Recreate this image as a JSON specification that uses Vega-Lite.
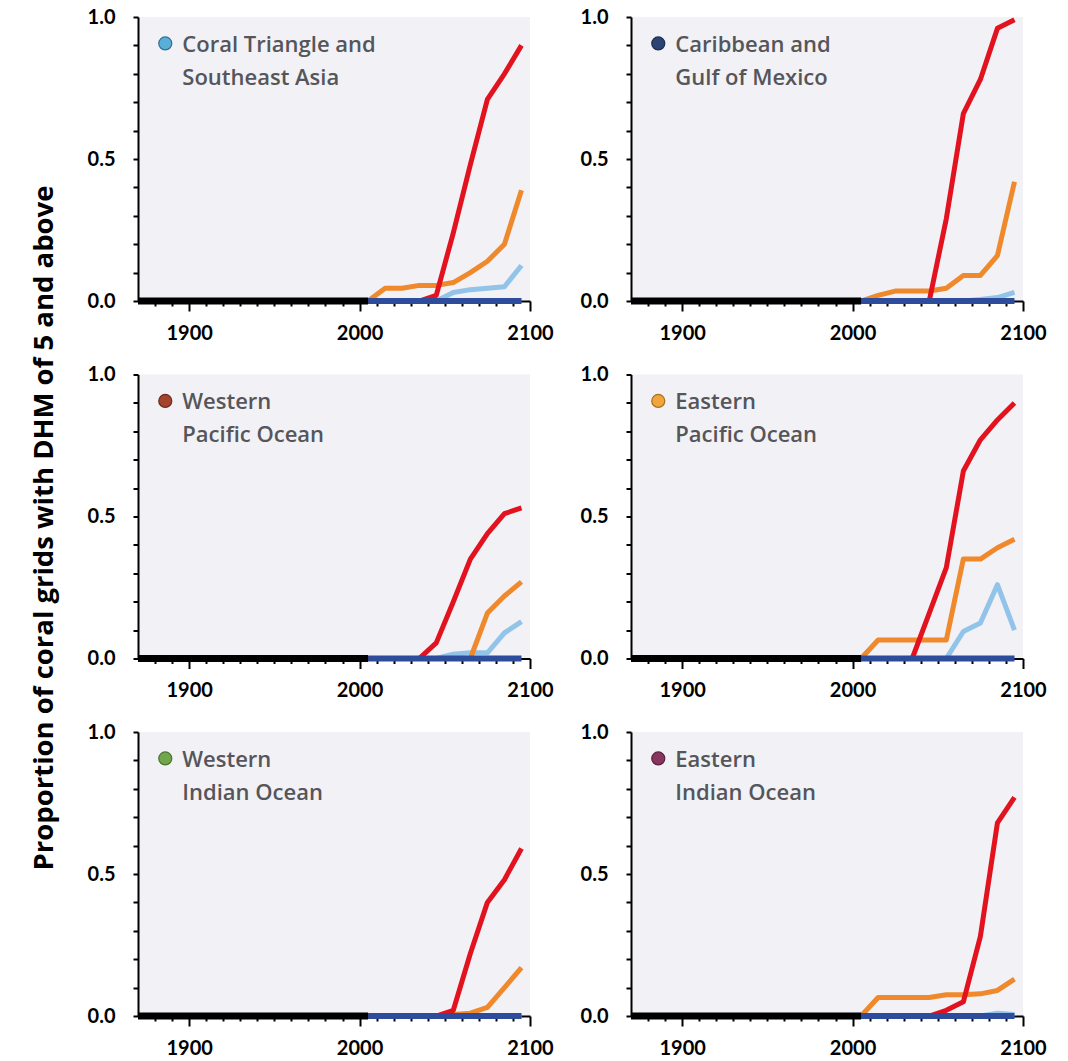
{
  "$schema": "https://vega.github.io/schema/vega-lite/v6.json",
  "background": "white",
  "padding": {"left": 30, "top": 7, "right": 5, "bottom": 5},
  "datasets": {
    "series": [
      {"region":"CT","scen":"Historical","year":1870,"value":0},{"region":"CT","scen":"Historical","year":2005,"value":0},
      {"region":"CT","scen":"RCP2.6","year":2005,"value":0},{"region":"CT","scen":"RCP2.6","year":2015,"value":0},{"region":"CT","scen":"RCP2.6","year":2025,"value":0},{"region":"CT","scen":"RCP2.6","year":2035,"value":0},{"region":"CT","scen":"RCP2.6","year":2045,"value":0},{"region":"CT","scen":"RCP2.6","year":2055,"value":0},{"region":"CT","scen":"RCP2.6","year":2065,"value":0},{"region":"CT","scen":"RCP2.6","year":2075,"value":0},{"region":"CT","scen":"RCP2.6","year":2085,"value":0},{"region":"CT","scen":"RCP2.6","year":2095,"value":0},
      {"region":"CT","scen":"RCP4.5","year":2005,"value":0},{"region":"CT","scen":"RCP4.5","year":2015,"value":0},{"region":"CT","scen":"RCP4.5","year":2025,"value":0},{"region":"CT","scen":"RCP4.5","year":2035,"value":0},{"region":"CT","scen":"RCP4.5","year":2045,"value":0},{"region":"CT","scen":"RCP4.5","year":2055,"value":0.03},{"region":"CT","scen":"RCP4.5","year":2065,"value":0.04},{"region":"CT","scen":"RCP4.5","year":2075,"value":0.045},{"region":"CT","scen":"RCP4.5","year":2085,"value":0.05},{"region":"CT","scen":"RCP4.5","year":2095,"value":0.125},
      {"region":"CT","scen":"RCP6.0","year":2005,"value":0},{"region":"CT","scen":"RCP6.0","year":2015,"value":0.045},{"region":"CT","scen":"RCP6.0","year":2025,"value":0.045},{"region":"CT","scen":"RCP6.0","year":2035,"value":0.055},{"region":"CT","scen":"RCP6.0","year":2045,"value":0.055},{"region":"CT","scen":"RCP6.0","year":2055,"value":0.065},{"region":"CT","scen":"RCP6.0","year":2065,"value":0.1},{"region":"CT","scen":"RCP6.0","year":2075,"value":0.14},{"region":"CT","scen":"RCP6.0","year":2085,"value":0.2},{"region":"CT","scen":"RCP6.0","year":2095,"value":0.39},
      {"region":"CT","scen":"RCP8.5","year":2005,"value":0},{"region":"CT","scen":"RCP8.5","year":2015,"value":0},{"region":"CT","scen":"RCP8.5","year":2025,"value":0},{"region":"CT","scen":"RCP8.5","year":2035,"value":0},{"region":"CT","scen":"RCP8.5","year":2045,"value":0.02},{"region":"CT","scen":"RCP8.5","year":2055,"value":0.24},{"region":"CT","scen":"RCP8.5","year":2065,"value":0.48},{"region":"CT","scen":"RCP8.5","year":2075,"value":0.71},{"region":"CT","scen":"RCP8.5","year":2085,"value":0.8},{"region":"CT","scen":"RCP8.5","year":2095,"value":0.9},

      {"region":"CAR","scen":"Historical","year":1870,"value":0},{"region":"CAR","scen":"Historical","year":2005,"value":0},
      {"region":"CAR","scen":"RCP2.6","year":2005,"value":0},{"region":"CAR","scen":"RCP2.6","year":2015,"value":0},{"region":"CAR","scen":"RCP2.6","year":2025,"value":0},{"region":"CAR","scen":"RCP2.6","year":2035,"value":0},{"region":"CAR","scen":"RCP2.6","year":2045,"value":0},{"region":"CAR","scen":"RCP2.6","year":2055,"value":0},{"region":"CAR","scen":"RCP2.6","year":2065,"value":0},{"region":"CAR","scen":"RCP2.6","year":2075,"value":0},{"region":"CAR","scen":"RCP2.6","year":2085,"value":0},{"region":"CAR","scen":"RCP2.6","year":2095,"value":0},
      {"region":"CAR","scen":"RCP4.5","year":2005,"value":0},{"region":"CAR","scen":"RCP4.5","year":2015,"value":0},{"region":"CAR","scen":"RCP4.5","year":2025,"value":0},{"region":"CAR","scen":"RCP4.5","year":2035,"value":0},{"region":"CAR","scen":"RCP4.5","year":2045,"value":0},{"region":"CAR","scen":"RCP4.5","year":2055,"value":0},{"region":"CAR","scen":"RCP4.5","year":2065,"value":0},{"region":"CAR","scen":"RCP4.5","year":2075,"value":0.005},{"region":"CAR","scen":"RCP4.5","year":2085,"value":0.012},{"region":"CAR","scen":"RCP4.5","year":2095,"value":0.03},
      {"region":"CAR","scen":"RCP6.0","year":2005,"value":0},{"region":"CAR","scen":"RCP6.0","year":2015,"value":0.02},{"region":"CAR","scen":"RCP6.0","year":2025,"value":0.035},{"region":"CAR","scen":"RCP6.0","year":2035,"value":0.035},{"region":"CAR","scen":"RCP6.0","year":2045,"value":0.035},{"region":"CAR","scen":"RCP6.0","year":2055,"value":0.045},{"region":"CAR","scen":"RCP6.0","year":2065,"value":0.09},{"region":"CAR","scen":"RCP6.0","year":2075,"value":0.09},{"region":"CAR","scen":"RCP6.0","year":2085,"value":0.16},{"region":"CAR","scen":"RCP6.0","year":2095,"value":0.42},
      {"region":"CAR","scen":"RCP8.5","year":2005,"value":0},{"region":"CAR","scen":"RCP8.5","year":2015,"value":0},{"region":"CAR","scen":"RCP8.5","year":2025,"value":0},{"region":"CAR","scen":"RCP8.5","year":2035,"value":0},{"region":"CAR","scen":"RCP8.5","year":2045,"value":0},{"region":"CAR","scen":"RCP8.5","year":2055,"value":0.29},{"region":"CAR","scen":"RCP8.5","year":2065,"value":0.66},{"region":"CAR","scen":"RCP8.5","year":2075,"value":0.78},{"region":"CAR","scen":"RCP8.5","year":2085,"value":0.96},{"region":"CAR","scen":"RCP8.5","year":2095,"value":0.99},

      {"region":"WP","scen":"Historical","year":1870,"value":0},{"region":"WP","scen":"Historical","year":2005,"value":0},
      {"region":"WP","scen":"RCP2.6","year":2005,"value":0},{"region":"WP","scen":"RCP2.6","year":2015,"value":0},{"region":"WP","scen":"RCP2.6","year":2025,"value":0},{"region":"WP","scen":"RCP2.6","year":2035,"value":0},{"region":"WP","scen":"RCP2.6","year":2045,"value":0},{"region":"WP","scen":"RCP2.6","year":2055,"value":0},{"region":"WP","scen":"RCP2.6","year":2065,"value":0},{"region":"WP","scen":"RCP2.6","year":2075,"value":0},{"region":"WP","scen":"RCP2.6","year":2085,"value":0},{"region":"WP","scen":"RCP2.6","year":2095,"value":0},
      {"region":"WP","scen":"RCP4.5","year":2005,"value":0},{"region":"WP","scen":"RCP4.5","year":2015,"value":0},{"region":"WP","scen":"RCP4.5","year":2025,"value":0},{"region":"WP","scen":"RCP4.5","year":2035,"value":0},{"region":"WP","scen":"RCP4.5","year":2045,"value":0},{"region":"WP","scen":"RCP4.5","year":2055,"value":0.015},{"region":"WP","scen":"RCP4.5","year":2065,"value":0.02},{"region":"WP","scen":"RCP4.5","year":2075,"value":0.02},{"region":"WP","scen":"RCP4.5","year":2085,"value":0.09},{"region":"WP","scen":"RCP4.5","year":2095,"value":0.13},
      {"region":"WP","scen":"RCP6.0","year":2005,"value":0},{"region":"WP","scen":"RCP6.0","year":2015,"value":0},{"region":"WP","scen":"RCP6.0","year":2025,"value":0},{"region":"WP","scen":"RCP6.0","year":2035,"value":0},{"region":"WP","scen":"RCP6.0","year":2045,"value":0},{"region":"WP","scen":"RCP6.0","year":2055,"value":0},{"region":"WP","scen":"RCP6.0","year":2065,"value":0},{"region":"WP","scen":"RCP6.0","year":2075,"value":0.16},{"region":"WP","scen":"RCP6.0","year":2085,"value":0.22},{"region":"WP","scen":"RCP6.0","year":2095,"value":0.27},
      {"region":"WP","scen":"RCP8.5","year":2005,"value":0},{"region":"WP","scen":"RCP8.5","year":2015,"value":0},{"region":"WP","scen":"RCP8.5","year":2025,"value":0},{"region":"WP","scen":"RCP8.5","year":2035,"value":0},{"region":"WP","scen":"RCP8.5","year":2045,"value":0.055},{"region":"WP","scen":"RCP8.5","year":2055,"value":0.2},{"region":"WP","scen":"RCP8.5","year":2065,"value":0.35},{"region":"WP","scen":"RCP8.5","year":2075,"value":0.44},{"region":"WP","scen":"RCP8.5","year":2085,"value":0.51},{"region":"WP","scen":"RCP8.5","year":2095,"value":0.53},

      {"region":"EP","scen":"Historical","year":1870,"value":0},{"region":"EP","scen":"Historical","year":2005,"value":0},
      {"region":"EP","scen":"RCP2.6","year":2005,"value":0},{"region":"EP","scen":"RCP2.6","year":2015,"value":0},{"region":"EP","scen":"RCP2.6","year":2025,"value":0},{"region":"EP","scen":"RCP2.6","year":2035,"value":0},{"region":"EP","scen":"RCP2.6","year":2045,"value":0},{"region":"EP","scen":"RCP2.6","year":2055,"value":0},{"region":"EP","scen":"RCP2.6","year":2065,"value":0},{"region":"EP","scen":"RCP2.6","year":2075,"value":0},{"region":"EP","scen":"RCP2.6","year":2085,"value":0},{"region":"EP","scen":"RCP2.6","year":2095,"value":0},
      {"region":"EP","scen":"RCP4.5","year":2005,"value":0},{"region":"EP","scen":"RCP4.5","year":2015,"value":0},{"region":"EP","scen":"RCP4.5","year":2025,"value":0},{"region":"EP","scen":"RCP4.5","year":2035,"value":0},{"region":"EP","scen":"RCP4.5","year":2045,"value":0},{"region":"EP","scen":"RCP4.5","year":2055,"value":0},{"region":"EP","scen":"RCP4.5","year":2065,"value":0.095},{"region":"EP","scen":"RCP4.5","year":2075,"value":0.125},{"region":"EP","scen":"RCP4.5","year":2085,"value":0.26},{"region":"EP","scen":"RCP4.5","year":2095,"value":0.1},
      {"region":"EP","scen":"RCP6.0","year":2005,"value":0},{"region":"EP","scen":"RCP6.0","year":2015,"value":0.065},{"region":"EP","scen":"RCP6.0","year":2025,"value":0.065},{"region":"EP","scen":"RCP6.0","year":2035,"value":0.065},{"region":"EP","scen":"RCP6.0","year":2045,"value":0.065},{"region":"EP","scen":"RCP6.0","year":2055,"value":0.065},{"region":"EP","scen":"RCP6.0","year":2065,"value":0.35},{"region":"EP","scen":"RCP6.0","year":2075,"value":0.35},{"region":"EP","scen":"RCP6.0","year":2085,"value":0.39},{"region":"EP","scen":"RCP6.0","year":2095,"value":0.42},
      {"region":"EP","scen":"RCP8.5","year":2005,"value":0},{"region":"EP","scen":"RCP8.5","year":2015,"value":0},{"region":"EP","scen":"RCP8.5","year":2025,"value":0},{"region":"EP","scen":"RCP8.5","year":2035,"value":0},{"region":"EP","scen":"RCP8.5","year":2045,"value":0.16},{"region":"EP","scen":"RCP8.5","year":2055,"value":0.32},{"region":"EP","scen":"RCP8.5","year":2065,"value":0.66},{"region":"EP","scen":"RCP8.5","year":2075,"value":0.77},{"region":"EP","scen":"RCP8.5","year":2085,"value":0.84},{"region":"EP","scen":"RCP8.5","year":2095,"value":0.9},

      {"region":"WI","scen":"Historical","year":1870,"value":0},{"region":"WI","scen":"Historical","year":2005,"value":0},
      {"region":"WI","scen":"RCP2.6","year":2005,"value":0},{"region":"WI","scen":"RCP2.6","year":2015,"value":0},{"region":"WI","scen":"RCP2.6","year":2025,"value":0},{"region":"WI","scen":"RCP2.6","year":2035,"value":0},{"region":"WI","scen":"RCP2.6","year":2045,"value":0},{"region":"WI","scen":"RCP2.6","year":2055,"value":0},{"region":"WI","scen":"RCP2.6","year":2065,"value":0},{"region":"WI","scen":"RCP2.6","year":2075,"value":0},{"region":"WI","scen":"RCP2.6","year":2085,"value":0},{"region":"WI","scen":"RCP2.6","year":2095,"value":0},
      {"region":"WI","scen":"RCP4.5","year":2005,"value":0},{"region":"WI","scen":"RCP4.5","year":2015,"value":0},{"region":"WI","scen":"RCP4.5","year":2025,"value":0},{"region":"WI","scen":"RCP4.5","year":2035,"value":0},{"region":"WI","scen":"RCP4.5","year":2045,"value":0},{"region":"WI","scen":"RCP4.5","year":2055,"value":0},{"region":"WI","scen":"RCP4.5","year":2065,"value":0},{"region":"WI","scen":"RCP4.5","year":2075,"value":0},{"region":"WI","scen":"RCP4.5","year":2085,"value":0},{"region":"WI","scen":"RCP4.5","year":2095,"value":0},
      {"region":"WI","scen":"RCP6.0","year":2005,"value":0},{"region":"WI","scen":"RCP6.0","year":2015,"value":0},{"region":"WI","scen":"RCP6.0","year":2025,"value":0},{"region":"WI","scen":"RCP6.0","year":2035,"value":0},{"region":"WI","scen":"RCP6.0","year":2045,"value":0},{"region":"WI","scen":"RCP6.0","year":2055,"value":0.005},{"region":"WI","scen":"RCP6.0","year":2065,"value":0.01},{"region":"WI","scen":"RCP6.0","year":2075,"value":0.03},{"region":"WI","scen":"RCP6.0","year":2085,"value":0.1},{"region":"WI","scen":"RCP6.0","year":2095,"value":0.17},
      {"region":"WI","scen":"RCP8.5","year":2005,"value":0},{"region":"WI","scen":"RCP8.5","year":2015,"value":0},{"region":"WI","scen":"RCP8.5","year":2025,"value":0},{"region":"WI","scen":"RCP8.5","year":2035,"value":0},{"region":"WI","scen":"RCP8.5","year":2045,"value":0},{"region":"WI","scen":"RCP8.5","year":2055,"value":0.02},{"region":"WI","scen":"RCP8.5","year":2065,"value":0.22},{"region":"WI","scen":"RCP8.5","year":2075,"value":0.4},{"region":"WI","scen":"RCP8.5","year":2085,"value":0.48},{"region":"WI","scen":"RCP8.5","year":2095,"value":0.59},

      {"region":"EI","scen":"Historical","year":1870,"value":0},{"region":"EI","scen":"Historical","year":2005,"value":0},
      {"region":"EI","scen":"RCP2.6","year":2005,"value":0},{"region":"EI","scen":"RCP2.6","year":2015,"value":0},{"region":"EI","scen":"RCP2.6","year":2025,"value":0},{"region":"EI","scen":"RCP2.6","year":2035,"value":0},{"region":"EI","scen":"RCP2.6","year":2045,"value":0},{"region":"EI","scen":"RCP2.6","year":2055,"value":0},{"region":"EI","scen":"RCP2.6","year":2065,"value":0},{"region":"EI","scen":"RCP2.6","year":2075,"value":0},{"region":"EI","scen":"RCP2.6","year":2085,"value":0},{"region":"EI","scen":"RCP2.6","year":2095,"value":0},
      {"region":"EI","scen":"RCP4.5","year":2005,"value":0},{"region":"EI","scen":"RCP4.5","year":2015,"value":0},{"region":"EI","scen":"RCP4.5","year":2025,"value":0},{"region":"EI","scen":"RCP4.5","year":2035,"value":0},{"region":"EI","scen":"RCP4.5","year":2045,"value":0},{"region":"EI","scen":"RCP4.5","year":2055,"value":0},{"region":"EI","scen":"RCP4.5","year":2065,"value":0},{"region":"EI","scen":"RCP4.5","year":2075,"value":0},{"region":"EI","scen":"RCP4.5","year":2085,"value":0.01},{"region":"EI","scen":"RCP4.5","year":2095,"value":0.005},
      {"region":"EI","scen":"RCP6.0","year":2005,"value":0},{"region":"EI","scen":"RCP6.0","year":2015,"value":0.065},{"region":"EI","scen":"RCP6.0","year":2025,"value":0.065},{"region":"EI","scen":"RCP6.0","year":2035,"value":0.065},{"region":"EI","scen":"RCP6.0","year":2045,"value":0.065},{"region":"EI","scen":"RCP6.0","year":2055,"value":0.075},{"region":"EI","scen":"RCP6.0","year":2065,"value":0.075},{"region":"EI","scen":"RCP6.0","year":2075,"value":0.078},{"region":"EI","scen":"RCP6.0","year":2085,"value":0.09},{"region":"EI","scen":"RCP6.0","year":2095,"value":0.13},
      {"region":"EI","scen":"RCP8.5","year":2005,"value":0},{"region":"EI","scen":"RCP8.5","year":2015,"value":0},{"region":"EI","scen":"RCP8.5","year":2025,"value":0},{"region":"EI","scen":"RCP8.5","year":2035,"value":0},{"region":"EI","scen":"RCP8.5","year":2045,"value":0},{"region":"EI","scen":"RCP8.5","year":2055,"value":0.02},{"region":"EI","scen":"RCP8.5","year":2065,"value":0.05},{"region":"EI","scen":"RCP8.5","year":2075,"value":0.28},{"region":"EI","scen":"RCP8.5","year":2085,"value":0.68},{"region":"EI","scen":"RCP8.5","year":2095,"value":0.77}
    ],
    "labels": [
      {"region":"CT","label":["Coral Triangle and","Southeast Asia"]},
      {"region":"CAR","label":["Caribbean and","Gulf of Mexico"]},
      {"region":"WP","label":["Western","Pacific Ocean"]},
      {"region":"EP","label":["Eastern","Pacific Ocean"]},
      {"region":"WI","label":["Western","Indian Ocean"]},
      {"region":"EI","label":["Eastern","Indian Ocean"]}
    ]
  },
  "data": {"name": "series"},
  "columns": 2,
  "spacing": {"row": 73.5, "column": 101},
  "bounds": "flush",
  "concat": [
    {
      "width": 392, "height": 284,
      "resolve": {"axis": {"x": "independent", "y": "independent"}},
      "layer": [
        {
          "encoding": {
            "x": {"field":"year","type":"quantitative","scale":{"domain":[1870,2100],"nice":false,"zero":false},
                  "axis":{"title":null,"values":[1880,1890,1900,1910,1920,1930,1940,1950,1960,1970,1980,1990,2000,2010,2020,2030,2040,2050,2060,2070,2080,2090,2100],"format":"d","labelExpr":"datum.value % 100 === 0 ? datum.label : ''","tickSize":{"condition":{"test":"datum.value % 100 === 0","value":10},"value":5},"labelPadding":12,"labelOverlap":false,"labelFlush":false}},
            "y": {"field":"value","type":"quantitative","scale":{"domain":[0,1],"nice":false},
                  "axis":{"title":null,"values":[0,0.1,0.2,0.3,0.4,0.5,0.6,0.7,0.8,0.9,1],"labelExpr":"(datum.value === 0 || datum.value === 0.5 || datum.value === 1) ? format(datum.value, '.1f') : ''","tickSize":5,"labelPadding":18,"labelOverlap":false,"labelFlush":false}}
          },
          "layer": [
            {"transform":[{"filter":"datum.region === 'CT' && datum.scen === 'RCP4.5'"}],"mark":{"type":"line","color":"#92c3e8","strokeWidth":5,"strokeJoin":"round"}},
            {"transform":[{"filter":"datum.region === 'CT' && datum.scen === 'RCP6.0'"}],"mark":{"type":"line","color":"#f0892b","strokeWidth":5,"strokeJoin":"round"}},
            {"transform":[{"filter":"datum.region === 'CT' && datum.scen === 'RCP8.5'"}],"mark":{"type":"line","color":"#e2121f","strokeWidth":5,"strokeJoin":"round"}},
            {"transform":[{"filter":"datum.region === 'CT' && datum.scen === 'RCP2.6'"}],"mark":{"type":"line","color":"#2d4d9c","strokeWidth":6}},
            {"transform":[{"filter":"datum.region === 'CT' && datum.scen === 'Historical'"}],"mark":{"type":"line","color":"#000000","strokeWidth":7}}
          ]
        },
        {"data":{"name":"labels"},"transform":[{"filter":"datum.region === 'CT'"}],"mark":{"type":"point","filled":true,"size":170,"color":"#5aafd9","stroke":"#2f6f94","strokeWidth":1.2,"opacity":1},"encoding":{"x":{"datum":1886,"type":"quantitative","axis":null},"y":{"datum":0.907,"type":"quantitative","axis":null}}},
        {"data":{"name":"labels"},"transform":[{"filter":"datum.region === 'CT'"}],"mark":{"type":"text","align":"left","baseline":"alphabetic","font":"Open Sans","fontWeight":600,"fontSize":22,"lineHeight":33,"color":"#55555a"},"encoding":{"x":{"datum":1896,"type":"quantitative","axis":null},"y":{"datum":0.878,"type":"quantitative","axis":null},"text":{"field":"label"}}}
      ]
    },
    {
      "width": 392, "height": 284,
      "resolve": {"axis": {"x": "independent", "y": "independent"}},
      "layer": [
        {
          "encoding": {
            "x": {"field":"year","type":"quantitative","scale":{"domain":[1870,2100],"nice":false,"zero":false},
                  "axis":{"title":null,"values":[1880,1890,1900,1910,1920,1930,1940,1950,1960,1970,1980,1990,2000,2010,2020,2030,2040,2050,2060,2070,2080,2090,2100],"format":"d","labelExpr":"datum.value % 100 === 0 ? datum.label : ''","tickSize":{"condition":{"test":"datum.value % 100 === 0","value":10},"value":5},"labelPadding":12,"labelOverlap":false,"labelFlush":false}},
            "y": {"field":"value","type":"quantitative","scale":{"domain":[0,1],"nice":false},
                  "axis":{"title":null,"values":[0,0.1,0.2,0.3,0.4,0.5,0.6,0.7,0.8,0.9,1],"labelExpr":"(datum.value === 0 || datum.value === 0.5 || datum.value === 1) ? format(datum.value, '.1f') : ''","tickSize":5,"labelPadding":18,"labelOverlap":false,"labelFlush":false}}
          },
          "layer": [
            {"transform":[{"filter":"datum.region === 'CAR' && datum.scen === 'RCP4.5'"}],"mark":{"type":"line","color":"#92c3e8","strokeWidth":5,"strokeJoin":"round"}},
            {"transform":[{"filter":"datum.region === 'CAR' && datum.scen === 'RCP6.0'"}],"mark":{"type":"line","color":"#f0892b","strokeWidth":5,"strokeJoin":"round"}},
            {"transform":[{"filter":"datum.region === 'CAR' && datum.scen === 'RCP8.5'"}],"mark":{"type":"line","color":"#e2121f","strokeWidth":5,"strokeJoin":"round"}},
            {"transform":[{"filter":"datum.region === 'CAR' && datum.scen === 'RCP2.6'"}],"mark":{"type":"line","color":"#2d4d9c","strokeWidth":6}},
            {"transform":[{"filter":"datum.region === 'CAR' && datum.scen === 'Historical'"}],"mark":{"type":"line","color":"#000000","strokeWidth":7}}
          ]
        },
        {"data":{"name":"labels"},"transform":[{"filter":"datum.region === 'CAR'"}],"mark":{"type":"point","filled":true,"size":170,"color":"#2c4471","stroke":"#1c2d4d","strokeWidth":1.2,"opacity":1},"encoding":{"x":{"datum":1886,"type":"quantitative","axis":null},"y":{"datum":0.907,"type":"quantitative","axis":null}}},
        {"data":{"name":"labels"},"transform":[{"filter":"datum.region === 'CAR'"}],"mark":{"type":"text","align":"left","baseline":"alphabetic","font":"Open Sans","fontWeight":600,"fontSize":22,"lineHeight":33,"color":"#55555a"},"encoding":{"x":{"datum":1896,"type":"quantitative","axis":null},"y":{"datum":0.878,"type":"quantitative","axis":null},"text":{"field":"label"}}}
      ]
    },
    {
      "width": 392, "height": 284,
      "resolve": {"axis": {"x": "independent", "y": "independent"}},
      "layer": [
        {
          "encoding": {
            "x": {"field":"year","type":"quantitative","scale":{"domain":[1870,2100],"nice":false,"zero":false},
                  "axis":{"title":null,"values":[1880,1890,1900,1910,1920,1930,1940,1950,1960,1970,1980,1990,2000,2010,2020,2030,2040,2050,2060,2070,2080,2090,2100],"format":"d","labelExpr":"datum.value % 100 === 0 ? datum.label : ''","tickSize":{"condition":{"test":"datum.value % 100 === 0","value":10},"value":5},"labelPadding":12,"labelOverlap":false,"labelFlush":false}},
            "y": {"field":"value","type":"quantitative","scale":{"domain":[0,1],"nice":false},
                  "axis":{"title":"Proportion of coral grids with DHM of 5 and above","titleFont":"Open Sans","titleFontWeight":"bold","titleFontSize":27.5,"titleColor":"#000000","titlePadding":29,"titleY":153,"values":[0,0.1,0.2,0.3,0.4,0.5,0.6,0.7,0.8,0.9,1],"labelExpr":"(datum.value === 0 || datum.value === 0.5 || datum.value === 1) ? format(datum.value, '.1f') : ''","tickSize":5,"labelPadding":18,"labelOverlap":false,"labelFlush":false}}
          },
          "layer": [
            {"transform":[{"filter":"datum.region === 'WP' && datum.scen === 'RCP4.5'"}],"mark":{"type":"line","color":"#92c3e8","strokeWidth":5,"strokeJoin":"round"}},
            {"transform":[{"filter":"datum.region === 'WP' && datum.scen === 'RCP6.0'"}],"mark":{"type":"line","color":"#f0892b","strokeWidth":5,"strokeJoin":"round"}},
            {"transform":[{"filter":"datum.region === 'WP' && datum.scen === 'RCP8.5'"}],"mark":{"type":"line","color":"#e2121f","strokeWidth":5,"strokeJoin":"round"}},
            {"transform":[{"filter":"datum.region === 'WP' && datum.scen === 'RCP2.6'"}],"mark":{"type":"line","color":"#2d4d9c","strokeWidth":6}},
            {"transform":[{"filter":"datum.region === 'WP' && datum.scen === 'Historical'"}],"mark":{"type":"line","color":"#000000","strokeWidth":7}}
          ]
        },
        {"data":{"name":"labels"},"transform":[{"filter":"datum.region === 'WP'"}],"mark":{"type":"point","filled":true,"size":170,"color":"#a3452e","stroke":"#6e2a1a","strokeWidth":1.2,"opacity":1},"encoding":{"x":{"datum":1886,"type":"quantitative","axis":null},"y":{"datum":0.907,"type":"quantitative","axis":null}}},
        {"data":{"name":"labels"},"transform":[{"filter":"datum.region === 'WP'"}],"mark":{"type":"text","align":"left","baseline":"alphabetic","font":"Open Sans","fontWeight":600,"fontSize":22,"lineHeight":33,"color":"#55555a"},"encoding":{"x":{"datum":1896,"type":"quantitative","axis":null},"y":{"datum":0.878,"type":"quantitative","axis":null},"text":{"field":"label"}}}
      ]
    },
    {
      "width": 392, "height": 284,
      "resolve": {"axis": {"x": "independent", "y": "independent"}},
      "layer": [
        {
          "encoding": {
            "x": {"field":"year","type":"quantitative","scale":{"domain":[1870,2100],"nice":false,"zero":false},
                  "axis":{"title":null,"values":[1880,1890,1900,1910,1920,1930,1940,1950,1960,1970,1980,1990,2000,2010,2020,2030,2040,2050,2060,2070,2080,2090,2100],"format":"d","labelExpr":"datum.value % 100 === 0 ? datum.label : ''","tickSize":{"condition":{"test":"datum.value % 100 === 0","value":10},"value":5},"labelPadding":12,"labelOverlap":false,"labelFlush":false}},
            "y": {"field":"value","type":"quantitative","scale":{"domain":[0,1],"nice":false},
                  "axis":{"title":null,"values":[0,0.1,0.2,0.3,0.4,0.5,0.6,0.7,0.8,0.9,1],"labelExpr":"(datum.value === 0 || datum.value === 0.5 || datum.value === 1) ? format(datum.value, '.1f') : ''","tickSize":5,"labelPadding":18,"labelOverlap":false,"labelFlush":false}}
          },
          "layer": [
            {"transform":[{"filter":"datum.region === 'EP' && datum.scen === 'RCP4.5'"}],"mark":{"type":"line","color":"#92c3e8","strokeWidth":5,"strokeJoin":"round"}},
            {"transform":[{"filter":"datum.region === 'EP' && datum.scen === 'RCP6.0'"}],"mark":{"type":"line","color":"#f0892b","strokeWidth":5,"strokeJoin":"round"}},
            {"transform":[{"filter":"datum.region === 'EP' && datum.scen === 'RCP8.5'"}],"mark":{"type":"line","color":"#e2121f","strokeWidth":5,"strokeJoin":"round"}},
            {"transform":[{"filter":"datum.region === 'EP' && datum.scen === 'RCP2.6'"}],"mark":{"type":"line","color":"#2d4d9c","strokeWidth":6}},
            {"transform":[{"filter":"datum.region === 'EP' && datum.scen === 'Historical'"}],"mark":{"type":"line","color":"#000000","strokeWidth":7}}
          ]
        },
        {"data":{"name":"labels"},"transform":[{"filter":"datum.region === 'EP'"}],"mark":{"type":"point","filled":true,"size":170,"color":"#f2a53c","stroke":"#a8701f","strokeWidth":1.2,"opacity":1},"encoding":{"x":{"datum":1886,"type":"quantitative","axis":null},"y":{"datum":0.907,"type":"quantitative","axis":null}}},
        {"data":{"name":"labels"},"transform":[{"filter":"datum.region === 'EP'"}],"mark":{"type":"text","align":"left","baseline":"alphabetic","font":"Open Sans","fontWeight":600,"fontSize":22,"lineHeight":33,"color":"#55555a"},"encoding":{"x":{"datum":1896,"type":"quantitative","axis":null},"y":{"datum":0.878,"type":"quantitative","axis":null},"text":{"field":"label"}}}
      ]
    },
    {
      "width": 392, "height": 284,
      "resolve": {"axis": {"x": "independent", "y": "independent"}},
      "layer": [
        {
          "encoding": {
            "x": {"field":"year","type":"quantitative","scale":{"domain":[1870,2100],"nice":false,"zero":false},
                  "axis":{"title":null,"values":[1880,1890,1900,1910,1920,1930,1940,1950,1960,1970,1980,1990,2000,2010,2020,2030,2040,2050,2060,2070,2080,2090,2100],"format":"d","labelExpr":"datum.value % 100 === 0 ? datum.label : ''","tickSize":{"condition":{"test":"datum.value % 100 === 0","value":10},"value":5},"labelPadding":12,"labelOverlap":false,"labelFlush":false}},
            "y": {"field":"value","type":"quantitative","scale":{"domain":[0,1],"nice":false},
                  "axis":{"title":null,"values":[0,0.1,0.2,0.3,0.4,0.5,0.6,0.7,0.8,0.9,1],"labelExpr":"(datum.value === 0 || datum.value === 0.5 || datum.value === 1) ? format(datum.value, '.1f') : ''","tickSize":5,"labelPadding":18,"labelOverlap":false,"labelFlush":false}}
          },
          "layer": [
            {"transform":[{"filter":"datum.region === 'WI' && datum.scen === 'RCP4.5'"}],"mark":{"type":"line","color":"#92c3e8","strokeWidth":5,"strokeJoin":"round"}},
            {"transform":[{"filter":"datum.region === 'WI' && datum.scen === 'RCP6.0'"}],"mark":{"type":"line","color":"#f0892b","strokeWidth":5,"strokeJoin":"round"}},
            {"transform":[{"filter":"datum.region === 'WI' && datum.scen === 'RCP8.5'"}],"mark":{"type":"line","color":"#e2121f","strokeWidth":5,"strokeJoin":"round"}},
            {"transform":[{"filter":"datum.region === 'WI' && datum.scen === 'RCP2.6'"}],"mark":{"type":"line","color":"#2d4d9c","strokeWidth":6}},
            {"transform":[{"filter":"datum.region === 'WI' && datum.scen === 'Historical'"}],"mark":{"type":"line","color":"#000000","strokeWidth":7}}
          ]
        },
        {"data":{"name":"labels"},"transform":[{"filter":"datum.region === 'WI'"}],"mark":{"type":"point","filled":true,"size":170,"color":"#72a64c","stroke":"#4a7330","strokeWidth":1.2,"opacity":1},"encoding":{"x":{"datum":1886,"type":"quantitative","axis":null},"y":{"datum":0.907,"type":"quantitative","axis":null}}},
        {"data":{"name":"labels"},"transform":[{"filter":"datum.region === 'WI'"}],"mark":{"type":"text","align":"left","baseline":"alphabetic","font":"Open Sans","fontWeight":600,"fontSize":22,"lineHeight":33,"color":"#55555a"},"encoding":{"x":{"datum":1896,"type":"quantitative","axis":null},"y":{"datum":0.878,"type":"quantitative","axis":null},"text":{"field":"label"}}}
      ]
    },
    {
      "width": 392, "height": 284,
      "resolve": {"axis": {"x": "independent", "y": "independent"}},
      "layer": [
        {
          "encoding": {
            "x": {"field":"year","type":"quantitative","scale":{"domain":[1870,2100],"nice":false,"zero":false},
                  "axis":{"title":null,"values":[1880,1890,1900,1910,1920,1930,1940,1950,1960,1970,1980,1990,2000,2010,2020,2030,2040,2050,2060,2070,2080,2090,2100],"format":"d","labelExpr":"datum.value % 100 === 0 ? datum.label : ''","tickSize":{"condition":{"test":"datum.value % 100 === 0","value":10},"value":5},"labelPadding":12,"labelOverlap":false,"labelFlush":false}},
            "y": {"field":"value","type":"quantitative","scale":{"domain":[0,1],"nice":false},
                  "axis":{"title":null,"values":[0,0.1,0.2,0.3,0.4,0.5,0.6,0.7,0.8,0.9,1],"labelExpr":"(datum.value === 0 || datum.value === 0.5 || datum.value === 1) ? format(datum.value, '.1f') : ''","tickSize":5,"labelPadding":18,"labelOverlap":false,"labelFlush":false}}
          },
          "layer": [
            {"transform":[{"filter":"datum.region === 'EI' && datum.scen === 'RCP4.5'"}],"mark":{"type":"line","color":"#92c3e8","strokeWidth":5,"strokeJoin":"round"}},
            {"transform":[{"filter":"datum.region === 'EI' && datum.scen === 'RCP6.0'"}],"mark":{"type":"line","color":"#f0892b","strokeWidth":5,"strokeJoin":"round"}},
            {"transform":[{"filter":"datum.region === 'EI' && datum.scen === 'RCP8.5'"}],"mark":{"type":"line","color":"#e2121f","strokeWidth":5,"strokeJoin":"round"}},
            {"transform":[{"filter":"datum.region === 'EI' && datum.scen === 'RCP2.6'"}],"mark":{"type":"line","color":"#2d4d9c","strokeWidth":6}},
            {"transform":[{"filter":"datum.region === 'EI' && datum.scen === 'Historical'"}],"mark":{"type":"line","color":"#000000","strokeWidth":7}}
          ]
        },
        {"data":{"name":"labels"},"transform":[{"filter":"datum.region === 'EI'"}],"mark":{"type":"point","filled":true,"size":170,"color":"#8a3460","stroke":"#5a1f3e","strokeWidth":1.2,"opacity":1},"encoding":{"x":{"datum":1886,"type":"quantitative","axis":null},"y":{"datum":0.907,"type":"quantitative","axis":null}}},
        {"data":{"name":"labels"},"transform":[{"filter":"datum.region === 'EI'"}],"mark":{"type":"text","align":"left","baseline":"alphabetic","font":"Open Sans","fontWeight":600,"fontSize":22,"lineHeight":33,"color":"#55555a"},"encoding":{"x":{"datum":1896,"type":"quantitative","axis":null},"y":{"datum":0.878,"type":"quantitative","axis":null},"text":{"field":"label"}}}
      ]
    }
  ],
  "config": {
    "view": {"fill": "#f1f1f6", "stroke": null},
    "axis": {"domainColor": "#000000", "domainWidth": 2, "tickColor": "#000000", "tickWidth": 2, "labelFont": "Lato", "labelFontWeight": "bold", "labelFontSize": 20, "labelColor": "#000000", "grid": false}
  }
}
